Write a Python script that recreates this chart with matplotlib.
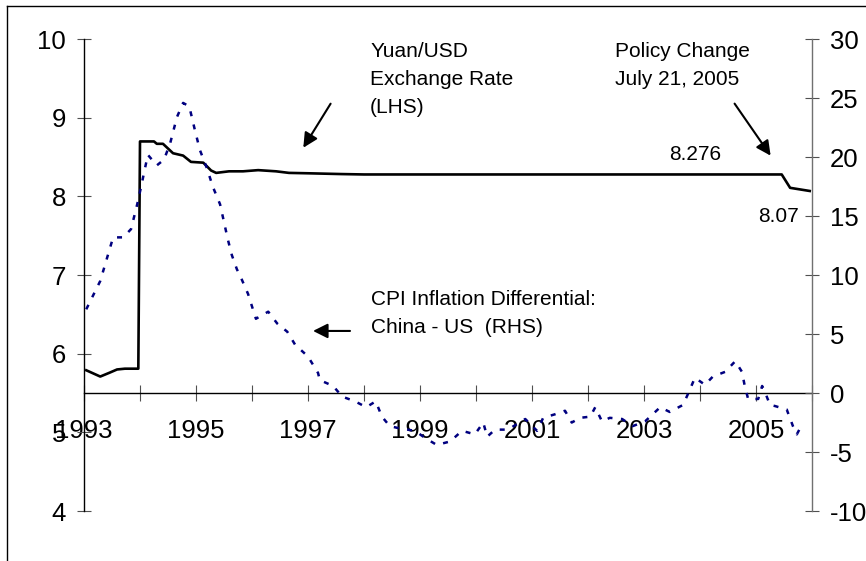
import numpy as np
import matplotlib
matplotlib.use('Agg')
import matplotlib.pyplot as plt
from matplotlib.lines import Line2D

plt.rcParams['font.family'] = ['Liberation Sans', 'DejaVu Sans']
plt.rcParams['axes.unicode_minus'] = False

# Yuan/USD exchange rate (LHS)
fx_years = [1993.04, 1993.29, 1993.46, 1993.59, 1993.73, 1993.97, 1994.0, 1994.25,
            1994.30, 1994.41, 1994.59, 1994.77, 1994.91, 1995.13, 1995.27, 1995.36,
            1995.59, 1995.84, 1996.11, 1996.43, 1996.66, 1997.0, 1997.6, 1998.0,
            2005.46, 2005.61, 2005.96]
fx_rate = [5.79, 5.71, 5.76, 5.80, 5.81, 5.81, 8.70, 8.70,
           8.67, 8.67, 8.55, 8.52, 8.44, 8.43, 8.33, 8.30,
           8.32, 8.32, 8.335, 8.32, 8.30, 8.295, 8.285, 8.28,
           8.28, 8.11, 8.07]

# CPI inflation differential China - US (RHS)
cpi_years = [1993.04, 1993.29, 1993.52, 1993.70, 1993.84, 1993.95, 1994.02, 1994.14,
             1994.30, 1994.43, 1994.54, 1994.66, 1994.77, 1994.88, 1994.98, 1995.07,
             1995.20, 1995.30, 1995.43, 1995.50, 1995.57, 1995.64, 1995.73, 1995.82,
             1995.93, 1996.07, 1996.29, 1996.45, 1996.63, 1996.77, 1997.00, 1997.18,
             1997.21, 1997.45, 1997.61, 1997.84, 1998.04, 1998.21, 1998.32, 1998.46,
             1998.64, 1998.91, 1999.09, 1999.30, 1999.54, 1999.75, 1999.98, 2000.13,
             2000.20, 2000.34, 2000.57, 2000.88, 2001.09, 2001.20, 2001.41, 2001.59,
             2001.71, 2001.86, 2002.04, 2002.13, 2002.25, 2002.39, 2002.61, 2002.80,
             2003.02, 2003.29, 2003.46, 2003.70, 2003.82, 2003.91, 2004.09, 2004.23,
             2004.45, 2004.63, 2004.75, 2004.80, 2004.86, 2005.04, 2005.11, 2005.16,
             2005.25, 2005.34, 2005.55, 2005.66, 2005.73, 2005.84]
cpi_diff = [7.1, 9.5, 13.2, 13.2, 13.9, 16.0, 17.5, 20.2,
            19.3, 19.8, 21.2, 23.4, 24.6, 24.3, 22.3, 20.6,
            19.0, 17.5, 16.0, 14.5, 13.0, 11.7, 10.5, 9.6,
            8.4, 6.3, 6.9, 5.9, 5.2, 4.1, 3.1, 1.7,
            1.1, 0.6, -0.3, -0.7, -1.2, -0.7, -2.0, -2.8,
            -3.0, -3.2, -3.8, -4.4, -4.1, -3.2, -3.5, -2.5,
            -3.7, -3.1, -3.1, -2.2, -3.2, -2.1, -1.8, -1.5,
            -2.5, -2.1, -2.0, -1.2, -2.4, -2.1, -2.2, -2.8,
            -2.4, -1.2, -1.6, -1.0, 0.3, 1.3, 0.7, 1.4,
            1.8, 2.7, 1.8, 0.6, -0.5, -0.5, 0.6, 0.1,
            -1.0, -1.1, -1.4, -2.8, -3.5, -2.5]

tick_years = list(range(1993, 2007))
tick_labels = [str(y) if y % 2 == 1 and y < 2006 else '' for y in tick_years]

fig = plt.figure(figsize=(8.66, 5.61), dpi=100)
ax = fig.add_axes([0.097, 0.0891, 0.8406, 0.8410])
ax2 = ax.twinx()

tick_col = '#505050'
tick_fs = 18.5

# left axis / x axis
ax.plot(fx_years, fx_rate, color='black', lw=1.9, zorder=3)
ax.set_xlim(1993, 2006)
ax.set_ylim(4, 10)
ax.set_yticks([4, 5, 6, 7, 8, 9, 10])
ax.set_xticks(tick_years)
ax.set_xticklabels(tick_labels)
ax.spines['top'].set_visible(False)
ax.spines['right'].set_visible(False)
ax.spines['bottom'].set_position(('data', 5.5))
ax.spines['left'].set_linewidth(1.0)
ax.spines['bottom'].set_linewidth(1.0)
ax.tick_params(axis='y', direction='inout', length=10, width=0.8, color=tick_col,
               labelsize=tick_fs, pad=8)
ax.tick_params(axis='x', direction='inout', length=12, width=0.8, color=tick_col,
               labelsize=tick_fs, pad=13)

# right axis
ax2.plot(cpi_years, cpi_diff, color='#000080', lw=1.8, dashes=(2.0, 3.4))
ax2.set_ylim(-10, 30)
ax2.set_yticks([-10, -5, 0, 5, 10, 15, 20, 25, 30])
for s in ['top', 'left', 'bottom']:
    ax2.spines[s].set_visible(False)
ax2.spines['right'].set_color('#707070')
ax2.spines['right'].set_linewidth(1.0)
ax2.tick_params(axis='y', direction='inout', length=10, width=0.8, color=tick_col,
                labelsize=tick_fs, pad=8)

# annotations
fs = 15
ax.text(1998.11, 9.49, 'Yuan/USD\nExchange Rate\n(LHS)', fontsize=fs,
        ha='left', va='center', linespacing=1.6)
ax.annotate('', xy=(1996.89, 8.59), xytext=(1997.43, 9.21),
            arrowprops=dict(arrowstyle='-|>', mutation_scale=22, lw=1.5, color='black'))

ax.text(2002.48, 9.66, 'Policy Change\nJuly 21, 2005', fontsize=fs,
        ha='left', va='center', linespacing=1.6)
ax.annotate('', xy=(2005.29, 8.49), xytext=(2004.59, 9.21),
            arrowprops=dict(arrowstyle='-|>', mutation_scale=22, lw=1.5, color='black'))

ax.text(1998.125, 6.51, 'CPI Inflation Differential:\nChina - US  (RHS)', fontsize=fs,
        ha='left', va='center', linespacing=1.6)
ax.annotate('', xy=(1997.04, 6.29), xytext=(1997.80, 6.29),
            arrowprops=dict(arrowstyle='-|>', mutation_scale=22, lw=1.5, color='black'))

ax.text(2003.91, 8.53, '8.276', fontsize=fs, ha='center', va='center')
ax.text(2005.77, 7.74, '8.07', fontsize=fs, ha='right', va='center')

# outer frame (top and left edges)
fig.add_artist(Line2D([0.0085, 1.0], [0.989, 0.989], color='black', lw=1.0))
fig.add_artist(Line2D([0.0085, 0.0085], [0.0, 0.989], color='black', lw=1.0))

fig.savefig('out.png', dpi=100)
